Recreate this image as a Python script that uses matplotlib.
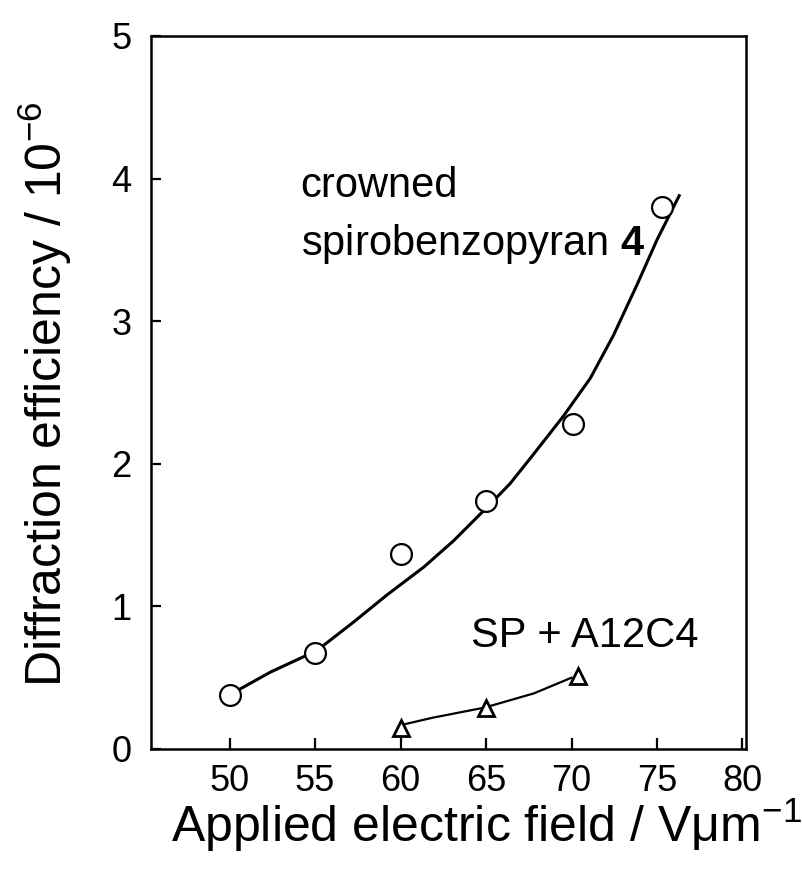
import matplotlib
matplotlib.use("Agg")
import matplotlib.pyplot as plt

plt.rcParams["font.family"] = ["Liberation Sans", "DejaVu Sans"]
plt.rcParams["mathtext.fontset"] = "custom"
plt.rcParams["mathtext.rm"] = "Liberation Sans"
plt.rcParams["mathtext.bf"] = "Liberation Sans:bold"
plt.rcParams["mathtext.default"] = "regular"

# crowned spirobenzopyran 4: measured points and drawn fit curve
sp4_x = [50, 55, 60, 65, 70.1, 75.3]
sp4_y = [0.38, 0.67, 1.37, 1.74, 2.28, 3.80]
sp4_fit_x = [50, 52.4, 55.1, 57.25, 59.2, 61.35, 63.1, 65.1, 66.4,
             67.6, 69.5, 71.1, 72.45, 73.85, 75.0, 76.3]
sp4_fit_y = [0.38, 0.54, 0.69, 0.89, 1.08, 1.275, 1.46, 1.70, 1.86,
             2.04, 2.33, 2.60, 2.90, 3.26, 3.57, 3.88]

# SP + A12C4
mix_x = [60, 65, 70.4]
mix_y = [0.15, 0.29, 0.51]
mix_fit_x = [60.1, 61.9, 64.9, 67.8, 70.0]
mix_fit_y = [0.17, 0.22, 0.29, 0.39, 0.50]

xticks = [50, 55, 60, 65, 70, 75, 80]
yticks = [0, 1, 2, 3, 4, 5]

fig = plt.figure(figsize=(8.02, 8.75), dpi=100)
ax = fig.add_axes([0.1883, 0.144, 0.7417, 0.8149])

ax.plot(sp4_fit_x, sp4_fit_y, color="black", lw=2.2, zorder=2)
ax.plot(sp4_x, sp4_y, "o", ms=15, mfc="white", mec="black", mew=1.6, zorder=3)
ax.plot(mix_fit_x, mix_fit_y, color="black", lw=1.6, zorder=2)
ax.plot(mix_x, mix_y, "^", ms=12, mfc="white", mec="black", mew=2.0, zorder=3)

ax.set_xlim(45.4, 80.2)
ax.set_ylim(0, 5)
ax.set_xticks(xticks)
ax.set_yticks(yticks)
ax.tick_params(axis="both", direction="in", width=1.6, labelsize=26)
ax.tick_params(axis="x", length=8, pad=11)
ax.tick_params(axis="y", length=7, pad=14)
for s in ax.spines.values():
    s.set_linewidth(1.8)

ax.text(54.15, 3.95, "crowned", fontsize=30, va="center", ha="left")
ax.text(54.15, 3.54, r"spirobenzopyran $\mathbf{4}$", fontsize=30, va="center", ha="left")
ax.text(64.1, 0.79, "SP + A12C4", fontsize=30, va="center", ha="left")

fig.text(0.056, 0.549, "Diffraction efficiency / 10$^{-6}$", rotation=90,
         fontsize=36, ha="center", va="center")
fig.text(0.606, 0.057, "Applied electric field / V\u03bcm$^{-1}$",
         fontsize=36, ha="center", va="center")

fig.savefig("out.png", dpi=100, facecolor="white")
